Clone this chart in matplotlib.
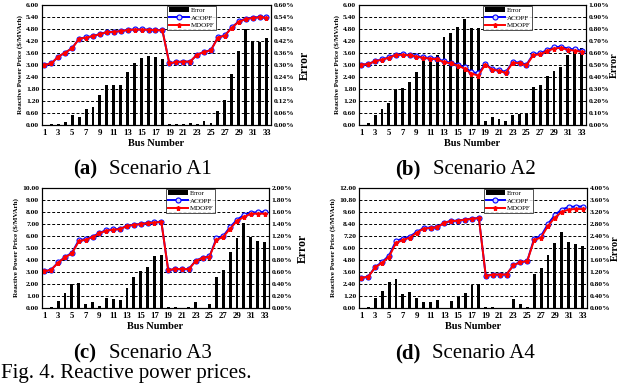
import matplotlib
matplotlib.use("Agg")
import matplotlib.pyplot as plt
import numpy as np
from matplotlib.ticker import FuncFormatter

plt.rcParams['font.family'] = ['Liberation Serif', 'DejaVu Serif']

buses = list(range(1, 34))
xtick_labels = list(range(1, 34, 2))

# Scenario A1
a1_acopf = [3.00, 3.08, 3.42, 3.62, 3.85, 4.32, 4.38, 4.45, 4.55, 4.65, 4.67, 4.70, 4.76, 4.78, 4.78, 4.77, 4.75, 4.74,
            3.08, 3.15, 3.17, 3.17, 3.52, 3.65, 3.75, 4.38, 4.48, 4.88, 5.18, 5.32, 5.37, 5.40, 5.38]
a1_mdopf = [3.00, 3.08, 3.42, 3.62, 3.84, 4.31, 4.37, 4.44, 4.54, 4.64, 4.66, 4.69, 4.75, 4.77, 4.77, 4.76, 4.74, 4.73,
            3.08, 3.15, 3.17, 3.17, 3.52, 3.64, 3.74, 4.37, 4.47, 4.86, 5.16, 5.29, 5.35, 5.38, 5.36]
a1_error = [0.000, 0.003, 0.005, 0.015, 0.050, 0.042, 0.080, 0.090, 0.150, 0.202, 0.200, 0.202, 0.265, 0.308, 0.335,
            0.345, 0.340, 0.332, 0.003, 0.005, 0.006, 0.010, 0.005, 0.020, 0.010, 0.072, 0.125, 0.255, 0.370, 0.478,
            0.420, 0.415, 0.435]

# Scenario A2
a2_acopf = [3.02, 3.05, 3.20, 3.28, 3.38, 3.52, 3.53, 3.50, 3.45, 3.38, 3.35, 3.32, 3.18, 3.12, 3.02, 2.88, 2.65, 2.58,
            3.05, 2.80, 2.75, 2.65, 3.15, 3.12, 3.02, 3.55, 3.58, 3.75, 3.88, 3.92, 3.82, 3.78, 3.72]
a2_mdopf = [3.02, 3.04, 3.19, 3.27, 3.36, 3.50, 3.51, 3.48, 3.42, 3.35, 3.32, 3.28, 3.14, 3.08, 2.97, 2.82, 2.57, 2.47,
            3.02, 2.77, 2.71, 2.60, 3.12, 3.08, 2.98, 3.50, 3.53, 3.70, 3.82, 3.86, 3.76, 3.72, 3.66]
a2_error = [0.000, 0.020, 0.087, 0.137, 0.187, 0.300, 0.308, 0.358, 0.442, 0.558, 0.550, 0.583, 0.730, 0.767, 0.820,
            0.883, 0.808, 0.808, 0.030, 0.063, 0.050, 0.033, 0.083, 0.092, 0.097, 0.313, 0.333, 0.408, 0.453, 0.483,
            0.587, 0.620, 0.642]

# Scenario A3
a3_acopf = [3.05, 3.20, 3.80, 4.25, 4.60, 5.65, 5.75, 5.95, 6.25, 6.50, 6.55, 6.60, 6.85, 6.95, 7.00, 7.10, 7.15, 7.20,
            3.15, 3.25, 3.25, 3.25, 3.95, 4.20, 4.30, 5.80, 6.00, 6.75, 7.35, 7.75, 7.95, 7.98, 8.02]
a3_mdopf = [3.05, 3.19, 3.78, 4.22, 4.55, 5.55, 5.70, 5.90, 6.22, 6.45, 6.52, 6.57, 6.82, 6.93, 6.98, 7.07, 7.12, 7.18,
            3.15, 3.25, 3.25, 3.24, 3.92, 4.17, 4.28, 5.68, 5.92, 6.62, 7.25, 7.58, 7.85, 7.86, 7.86]
a3_error = [0.004, 0.016, 0.124, 0.256, 0.404, 0.424, 0.070, 0.104, 0.040, 0.170, 0.150, 0.140, 0.330, 0.510, 0.620,
            0.684, 0.870, 0.890, 0.016, 0.010, 0.006, 0.010, 0.104, 0.006, 0.060, 0.510, 0.640, 0.930, 1.170, 1.420,
            1.180, 1.124, 1.104]

# Scenario A4
a4_acopf = [3.00, 3.15, 4.10, 4.60, 5.25, 6.70, 6.95, 7.15, 7.60, 8.00, 8.05, 8.10, 8.55, 8.70, 8.75, 8.85, 8.95, 9.00,
            3.20, 3.35, 3.35, 3.35, 4.30, 4.60, 4.70, 6.95, 7.20, 8.40, 9.30, 9.85, 10.10, 10.15, 10.15]
a4_mdopf = [3.00, 3.14, 4.06, 4.52, 5.12, 6.50, 6.80, 7.03, 7.52, 7.95, 8.00, 8.06, 8.55, 8.68, 8.73, 8.83, 8.92, 8.98,
            3.20, 3.35, 3.35, 3.35, 4.26, 4.58, 4.68, 6.80, 7.05, 8.20, 9.05, 9.60, 9.85, 9.90, 9.90]
a4_error = [0.000, 0.040, 0.327, 0.583, 0.867, 0.983, 0.473, 0.533, 0.350, 0.200, 0.207, 0.267, 0.007, 0.240, 0.400,
            0.493, 0.773, 0.793, 0.040, 0.017, 0.010, 0.007, 0.293, 0.127, 0.027, 1.117, 1.317, 1.783, 2.173, 2.540,
            2.200, 2.117, 2.083]

scenarios = [
    ("(a)", "Scenario A1", a1_acopf, a1_mdopf, a1_error, 6.0, 0.60, 0.60, 0.06),
    ("(b)", "Scenario A2", a2_acopf, a2_mdopf, a2_error, 6.0, 0.60, 1.00, 0.10),
    ("(c)", "Scenario A3", a3_acopf, a3_mdopf, a3_error, 10.0, 1.00, 2.00, 0.20),
    ("(d)", "Scenario A4", a4_acopf, a4_mdopf, a4_error, 12.0, 1.20, 4.00, 0.40),
]

W, H = 623, 390
fig = plt.figure(figsize=(W / 100, H / 100), dpi=100)

boxes = [(42, 5, 271, 125), (359, 5, 586, 125), (42, 188, 269, 308), (359, 188, 587, 308)]
caption_pos = [(73, 109, 174), (395, 433, 174), (73, 109, 358), (395, 432, 358)]
err_pad = [3, 0.5, 3, 0.5]

for (tag, title, ac, md, err, lmax, lstep, rmax, rstep), (x0, y0, x1, y1), (tx, sx, by), epad in zip(
        scenarios, boxes, caption_pos, err_pad):
    ax = fig.add_axes([x0 / W, 1 - y1 / H, (x1 - x0) / W, (y1 - y0) / H])
    ax2 = ax.twinx()
    ax.set_zorder(ax2.get_zorder() + 1)
    ax.patch.set_visible(False)

    bars = ax2.bar(buses, err, width=0.42, color='black', label='Error')
    ax2.set_ylim(0, rmax)
    ax2.set_yticks(np.arange(0, rmax + rstep / 2, rstep))
    ax2.yaxis.set_major_formatter(FuncFormatter(lambda v, p: f"{v:.2f}%"))

    l1, = ax.plot(buses, ac, color='blue', lw=1.4, marker='o', ms=3.6, mfc='#d8d8ff', mec='blue', mew=0.8, label='ACOPF')
    l2, = ax.plot(buses, md, color='red', lw=1.4, marker='*', ms=3.6, mfc='red', mec='red', label='MDOPF')
    ax.set_ylim(0, lmax)
    ax.set_yticks(np.arange(0, lmax + lstep / 2, lstep))
    ax.yaxis.set_major_formatter(FuncFormatter(lambda v, p: f"{v:.2f}"))
    ax.set_xlim(0.65, 33.65)
    ax.set_xticks(xtick_labels)
    ax.grid(axis='y', linestyle=(0, (3, 2)), color='black', lw=0.7)
    ax.set_axisbelow(True)

    for a in (ax, ax2):
        a.tick_params(axis='both', length=0, pad=2)
        for s in a.spines.values():
            s.set_linewidth(0.8)
    for lab in ax.get_yticklabels() + ax2.get_yticklabels():
        lab.set_fontsize(5.4)
        lab.set_fontweight('bold')
    for lab in ax.get_xticklabels():
        lab.set_fontsize(6.3)
        lab.set_fontweight('bold')
    ax.tick_params(axis='x', pad=3)

    ax.set_xlabel("Bus Number", fontsize=7.5, fontweight='bold', labelpad=1)
    ax.set_ylabel("Reactive Power Price ($/MVArh)", fontsize=5.0, fontweight='bold', labelpad=2)
    ax2.set_ylabel("Error", fontsize=8.5 if epad > 1 else 7.5, fontweight='bold', labelpad=epad)

    leg = ax.legend([bars, l1, l2], ['Error', 'ACOPF', 'MDOPF'], loc='upper left',
                    bbox_to_anchor=(0.545, 1.0), fontsize=5, frameon=True, fancybox=False,
                    edgecolor='black', borderpad=0.25, labelspacing=0.25, handlelength=2.8,
                    handletextpad=0.3, borderaxespad=0.1)
    leg.get_frame().set_linewidth(0.6)

    fig.text(tx / W, 1 - by / H, tag, fontsize=15, fontweight='bold', ha='left', va='baseline')
    fig.text(sx / W, 1 - by / H, title, fontsize=15, ha='left', va='baseline')

fig.text(1 / W, 1 - 378 / H, "Fig. 4. Reactive power prices.", fontsize=15, ha='left', va='baseline')

fig.savefig("out.png", dpi=100)
